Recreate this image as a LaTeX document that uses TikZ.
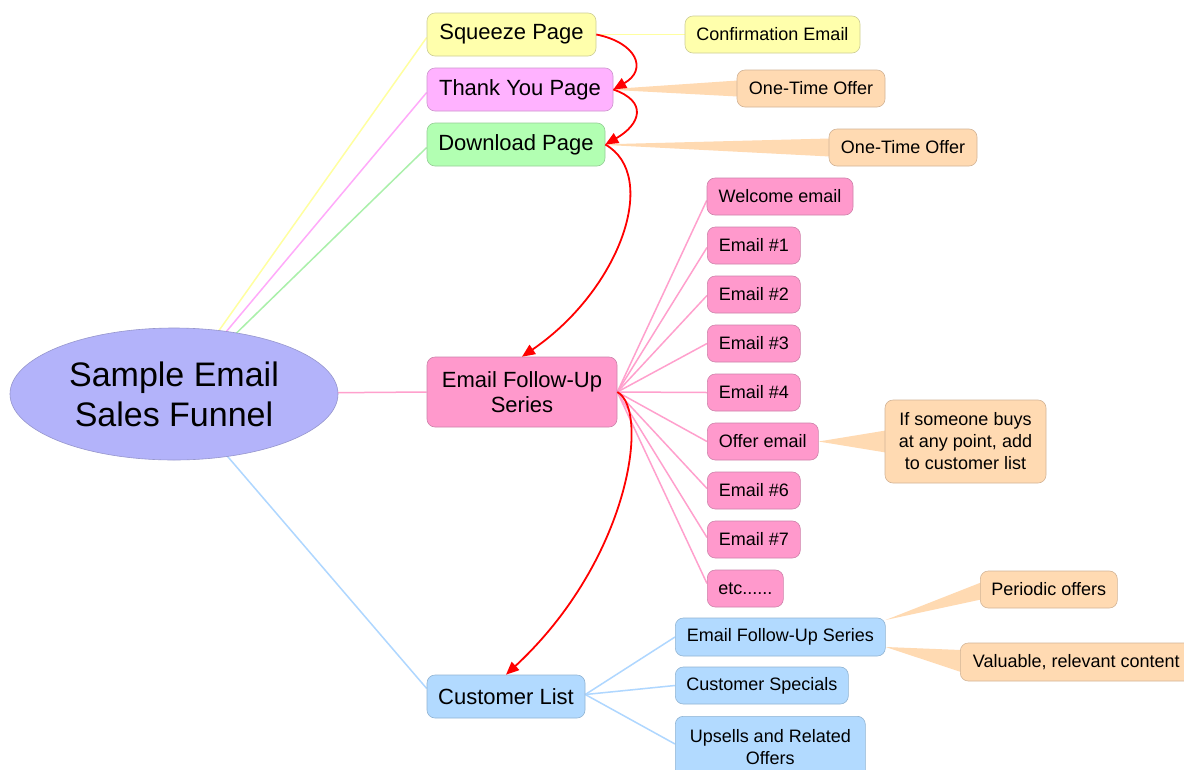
\documentclass[tikz,border=0pt]{standalone}
\usepackage{fontspec}
\setmainfont{Liberation Sans}
\usetikzlibrary{calc,arrows.meta,backgrounds,shapes.geometric}

\definecolor{rootfill}{RGB}{179,179,250}
\definecolor{rootdraw}{RGB}{150,150,205}
\definecolor{yelfill}{RGB}{255,255,172}
\definecolor{yeldraw}{RGB}{205,205,150}
\definecolor{yelline}{RGB}{255,255,160}
\definecolor{magfill}{RGB}{255,178,255}
\definecolor{magdraw}{RGB}{205,150,205}
\definecolor{magline}{RGB}{255,170,250}
\definecolor{grnfill}{RGB}{178,255,178}
\definecolor{grndraw}{RGB}{150,205,150}
\definecolor{grnline}{RGB}{170,240,170}
\definecolor{pnkfill}{RGB}{255,153,204}
\definecolor{pnkdraw}{RGB}{205,130,170}
\definecolor{pnkline}{RGB}{255,160,205}
\definecolor{orgfill}{RGB}{255,218,178}
\definecolor{orgdraw}{RGB}{210,180,150}
\definecolor{blufill}{RGB}{178,218,255}
\definecolor{bludraw}{RGB}{145,180,210}
\definecolor{bluline}{RGB}{175,215,255}
\definecolor{flowred}{RGB}{255,0,0}

\tikzset{
  box/.style={rectangle, rounded corners=8pt, line width=0.6pt, inner sep=0pt,
    align=center, text=black},
  bigbox/.style={box, minimum height=43pt, font=\fontsize{22}{25}\selectfont},
  smallbox/.style={box, minimum height=37pt, font=\fontsize{18}{22}\selectfont},
  yelbox/.style={fill=yelfill, draw=yeldraw},
  magbox/.style={fill=magfill, draw=magdraw},
  grnbox/.style={fill=grnfill, draw=grndraw},
  pnkbox/.style={fill=pnkfill, draw=pnkdraw},
  orgbox/.style={fill=orgfill, draw=orgdraw},
  blubox/.style={fill=blufill, draw=bludraw},
  branch/.style={line width=1.5pt},
  flow/.style={draw=flowred, line width=1.8pt, -{Triangle[length=13pt,width=11pt]}},
  wedge/.style={fill=orgfill}
}

\begin{document}
\begin{tikzpicture}[x=1pt,y=-1pt]
\useasboundingbox (0,0) rectangle (1184,769);

% central topic
\node[ellipse, fill=rootfill, draw=rootdraw, line width=0.6pt,
      minimum width=328pt, minimum height=132pt, inner sep=0pt, align=center,
      font=\fontsize{34}{40}\selectfont] (root) at (174,394) {Sample Email\\Sales Funnel};

% first level
\node[bigbox, yelbox, minimum width=169pt] (squeeze) at (511.5,34.5) {Squeeze Page};
\node[bigbox, magbox, minimum width=186pt] (thanks)  at (520,89.5) {Thank You Page};
\node[bigbox, grnbox, minimum width=178pt] (download) at (516,144.5) {Download Page};
\node[bigbox, pnkbox, minimum width=190pt, minimum height=70pt] (series) at (522,392) {Email Follow-Up\\Series};
\node[bigbox, blubox, minimum width=158pt] (customers) at (506,696.5) {Customer List};

% side notes of the pages
\node[smallbox, yelbox, minimum width=175pt] (confirm) at (772.5,34.5) {Confirmation Email};
\node[smallbox, orgbox, minimum width=148pt] (oto1) at (811,88.5) {One-Time Offer};
\node[smallbox, orgbox, minimum width=148pt] (oto2) at (903,147.5) {One-Time Offer};

% the email sequence
\node[smallbox, pnkbox, minimum width=146pt] (welcome) at (780,196.5) {Welcome email};
\node[smallbox, pnkbox, minimum width=93pt, anchor=west] (e1) at (707,245.5) {Email \#1};
\node[smallbox, pnkbox, minimum width=93pt, anchor=west] (e2) at (707,294.5) {Email \#2};
\node[smallbox, pnkbox, minimum width=93pt, anchor=west] (e3) at (707,343.5) {Email \#3};
\node[smallbox, pnkbox, minimum width=93pt, anchor=west] (e4) at (707,392.5) {Email \#4};
\node[smallbox, pnkbox, minimum width=111pt, anchor=west] (offer) at (707,441.5) {Offer email};
\node[smallbox, pnkbox, minimum width=93pt, anchor=west] (e6) at (707,490.5) {Email \#6};
\node[smallbox, pnkbox, minimum width=93pt, anchor=west] (e7) at (707,539.5) {Email \#7};
\node[smallbox, pnkbox, minimum width=76pt, anchor=west] (etc) at (707,588.5) {etc......};
\node[smallbox, orgbox, minimum width=161pt, minimum height=83pt,
      font=\fontsize{18}{22}\selectfont] (buys) at (965.5,441.5) {If someone buys\\at any point, add\\to customer list};

% customer branch
\node[smallbox, blubox, minimum width=210pt, minimum height=38pt, anchor=west] (cseries) at (675,637) {Email Follow-Up Series};
\node[smallbox, blubox, minimum width=173pt, anchor=west] (specials) at (675,685.5) {Customer Specials};
\node[smallbox, blubox, minimum width=190pt, minimum height=62pt, anchor=north west] (upsells) at (675,716) {Upsells and Related\\Offers};
\node[smallbox, orgbox, minimum width=137pt, anchor=west] (periodic) at (980,589.5) {Periodic offers};
\node[smallbox, orgbox, minimum width=232pt, minimum height=38pt, anchor=west] (valuable) at (960,662) {Valuable, relevant content};

\begin{scope}[on background layer]
  \fill[white] (0,0) rectangle (1184,769);

  % branches from the central topic
  \draw[branch, yelline] (root.center) -- ($(squeeze.west)+(0,3)$);
  \draw[branch, magline] (root.center) -- ($(thanks.west)+(0,3)$);
  \draw[branch, grnline] (root.center) -- ($(download.west)+(0,3)$);
  \draw[branch, pnkline] (root.center) -- (series.west);
  \draw[branch, bluline] (root.center) -- ($(customers.west)+(0,-8)$);

  \draw[branch, yelline] (squeeze.east) -- (confirm.west);

  % the email fan
  \foreach \n/\dy in {welcome/4, e1/2, e2/1, e3/0, e4/0, offer/0, e6/-2, e7/-2, etc/-5}
    \draw[branch, pnkline] (series.east) -- ($(\n.west)+(0,\dy)$);

  % customer sub-branches
  \foreach \n in {cseries, specials}
    \draw[branch, bluline] ($(customers.east)+(0,-2)$) -- (\n.west);
  \draw[branch, bluline] ($(customers.east)+(0,-2)$) -- ($(upsells.north west)+(0,28)$);

  % callout wedges
  \fill[wedge] ($(thanks.east)+(-8,0)$) -- ($(oto1.west)+(1,-8)$) -- ($(oto1.west)+(1,8)$) -- cycle;
  \fill[wedge] ($(download.east)+(-8,0)$) -- ($(oto2.west)+(1,-9)$) -- ($(oto2.west)+(1,9)$) -- cycle;
  \fill[wedge] (offer.east) -- ($(buys.west)+(1,-11)$) -- ($(buys.west)+(1,11)$) -- cycle;
  \fill[wedge] ($(cseries.east)+(0,-17)$) -- ($(periodic.west)+(1,-7)$) -- ($(periodic.west)+(1,10)$) -- cycle;
  \fill[wedge] ($(cseries.east)+(0,10)$) -- ($(valuable.west)+(1,-12)$) -- ($(valuable.west)+(1,10)$) -- cycle;
\end{scope}

% the funnel sequence
\draw[flow] (squeeze.east) .. controls +(40,8) and +(35,-20) .. (thanks.east);
\draw[flow] (thanks.east) .. controls +(35,12) and +(35,-20) .. (download.east);
\draw[flow] (download.east) .. controls +(55,31) and +(98,-67) .. (series.north);
\draw[flow] (series.east) .. controls +(33,18) and +(124,-115) .. (customers.north);
\end{tikzpicture}
\end{document}
